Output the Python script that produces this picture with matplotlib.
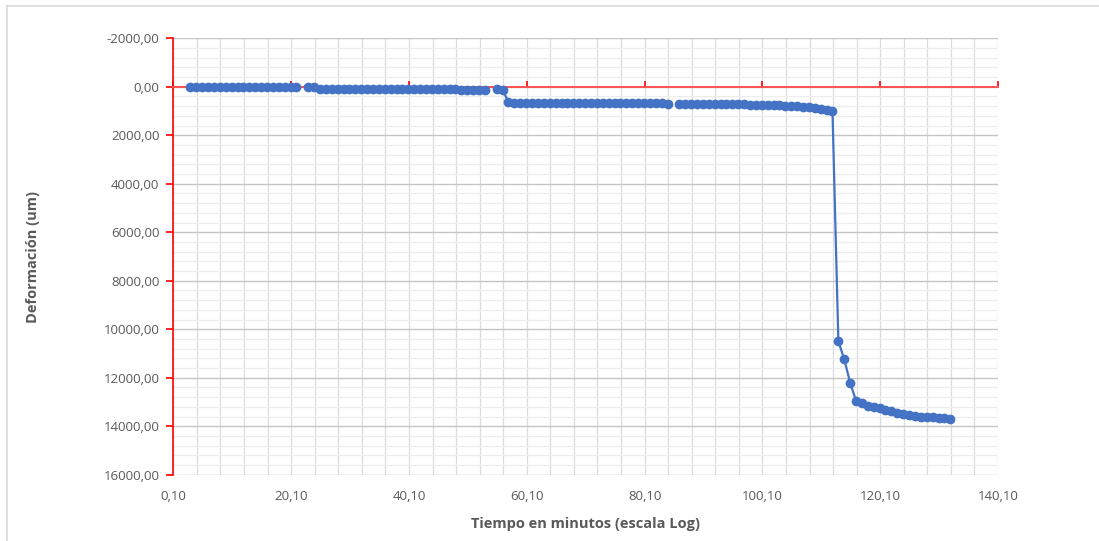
import numpy as np
import matplotlib
matplotlib.use("Agg")
import matplotlib.pyplot as plt
from matplotlib.ticker import FixedLocator, FuncFormatter
from matplotlib.lines import Line2D

## DATA (nan = missing reading, breaks the line)

nan = np.nan

time_min = [3, 4, 5, 6, 7, 8, 9, 10, 11, 12, 13, 14, 15, 16, 17, 18, 19, 20, 21,
            22,
            23, 24,
            25, 26, 27, 28, 29, 30, 31, 32, 33, 34, 35, 36, 37, 38, 39, 40, 41, 42, 43,
            44, 45, 46, 47, 48, 49, 50, 51, 52, 53,
            54,
            55, 56,
            57, 58, 59, 60, 61, 62, 63, 64, 65, 66, 67, 68, 69, 70, 71, 72, 73, 74, 75,
            76, 77, 78, 79, 80, 81, 82, 83, 84,
            85,
            86, 87, 88, 89, 90, 91, 92, 93, 94, 95, 96, 97, 98, 99, 100, 101, 102, 103,
            104, 105, 106, 107, 108, 109, 110, 111, 112,
            113, 114, 115, 116, 117, 118, 119, 120, 121, 122, 123, 124, 125, 126, 127,
            128, 129, 130, 131, 132]

deformation_um = [5, 5, 8, 8, 10, 10, 10, 12, 12, 12, 15, 15, 15, 15, 18, 18, 18, 20, 20,
                  nan,
                  20, 25,
                  90, 95, 95, 100, 100, 100, 100, 100, 100, 105, 105, 105, 105, 105, 105,
                  105, 110, 110, 110, 110, 110, 110, 110, 110, 115, 115, 115, 115, 115,
                  nan,
                  110, 115,
                  645, 650, 655, 660, 660, 665, 665, 665, 665, 670, 670, 670, 670, 670,
                  675, 675, 675, 675, 675, 680, 680, 680, 680, 680, 685, 685, 685, 690,
                  nan,
                  690, 695, 700, 705, 705, 710, 710, 715, 715, 720, 720, 725, 730, 735,
                  740, 745, 755, 765, 780, 795, 810, 830, 850, 875, 900, 940, 990,
                  10490, 11240, 12200, 12950, 13060, 13150, 13200, 13260, 13330, 13390,
                  13440, 13490, 13530, 13570, 13600, 13620, 13635, 13655, 13675, 13705]

x_ticks = [0.1, 20.1, 40.1, 60.1, 80.1, 100.1, 120.1, 140.1]
y_ticks = [-2000, 0, 2000, 4000, 6000, 8000, 10000, 12000, 14000, 16000]

## STYLE

blue = "#4472C4"
text_gray = "#595959"
plt.rcParams['font.family'] = ['Open Sans', 'DejaVu Sans']


def comma(v, pos=None):
    return ("%.2f" % v).replace(".", ",")


fig = plt.figure(figsize=(10.99, 5.41), dpi=100)
ax = fig.add_axes([0.1577, 0.1224, 0.7504, 0.8068])

# light border of the chart area (only top and left visible)
fig.add_artist(Line2D([7 / 1099, 1], [1 - 6 / 541, 1 - 6 / 541], color="#d9d9d9", lw=1.2))
fig.add_artist(Line2D([7 / 1099, 7 / 1099], [0, 1 - 6 / 541], color="#d9d9d9", lw=1.2))

ax.set_xlim(x_ticks[0], x_ticks[-1])
ax.set_ylim(y_ticks[-1], y_ticks[0])

# grid: 5 minor divisions per major step
ax.xaxis.set_major_locator(FixedLocator(x_ticks))
ax.xaxis.set_minor_locator(FixedLocator(np.linspace(x_ticks[0], x_ticks[-1], 36)))
ax.yaxis.set_major_locator(FixedLocator(y_ticks))
ax.yaxis.set_minor_locator(FixedLocator(np.linspace(y_ticks[0], y_ticks[-1], 46)))
ax.grid(which="major", axis="y", color="#c6c6c6", lw=1.0)
ax.grid(which="minor", axis="y", color="#ededed", lw=0.9)
ax.grid(which="both", axis="x", color="#dcdcdc", lw=0.9)
ax.set_axisbelow(True)

# spines: red y axis on the left, red x axis at y = 0
for s in ["top", "right"]:
    ax.spines[s].set_visible(False)
ax.spines["left"].set_color("red")
ax.spines["left"].set_linewidth(1.2)
ax.spines["bottom"].set_position(("data", 0))
ax.spines["bottom"].set_color("#ff5050")
ax.spines["bottom"].set_linewidth(1.4)

ax.tick_params(axis="y", which="major", direction="out", length=5, width=1.2,
               color="red", labelcolor=text_gray, labelsize=9.5, pad=5)
ax.tick_params(axis="y", which="minor", length=0)
ax.tick_params(axis="x", which="major", direction="in", length=4, width=1.2,
               color="red", labelbottom=False)
ax.tick_params(axis="x", which="minor", length=0)
ax.yaxis.set_major_formatter(FuncFormatter(comma))

# x tick labels at the bottom of the plot area
sec = ax.secondary_xaxis("bottom")
sec.set_xticks(x_ticks)
sec.xaxis.set_major_formatter(FuncFormatter(comma))
sec.tick_params(length=0, labelcolor=text_gray, labelsize=9.5, pad=11)
for s in sec.spines.values():
    s.set_visible(False)

# series
ax.plot(time_min, deformation_um, color=blue, lw=1.6, marker="o", ms=6,
        markeredgecolor=blue, zorder=3)

sec.set_xlabel("Tiempo en minutos (escala Log)", color=text_gray, fontsize=10.5,
               fontweight="bold", labelpad=10)
ax.set_ylabel("Deformación (um)", color=text_gray, fontsize=10.5, fontweight="bold")
ax.yaxis.set_label_coords(-0.1616, 0.5)

fig.savefig("out.png", dpi=100)
